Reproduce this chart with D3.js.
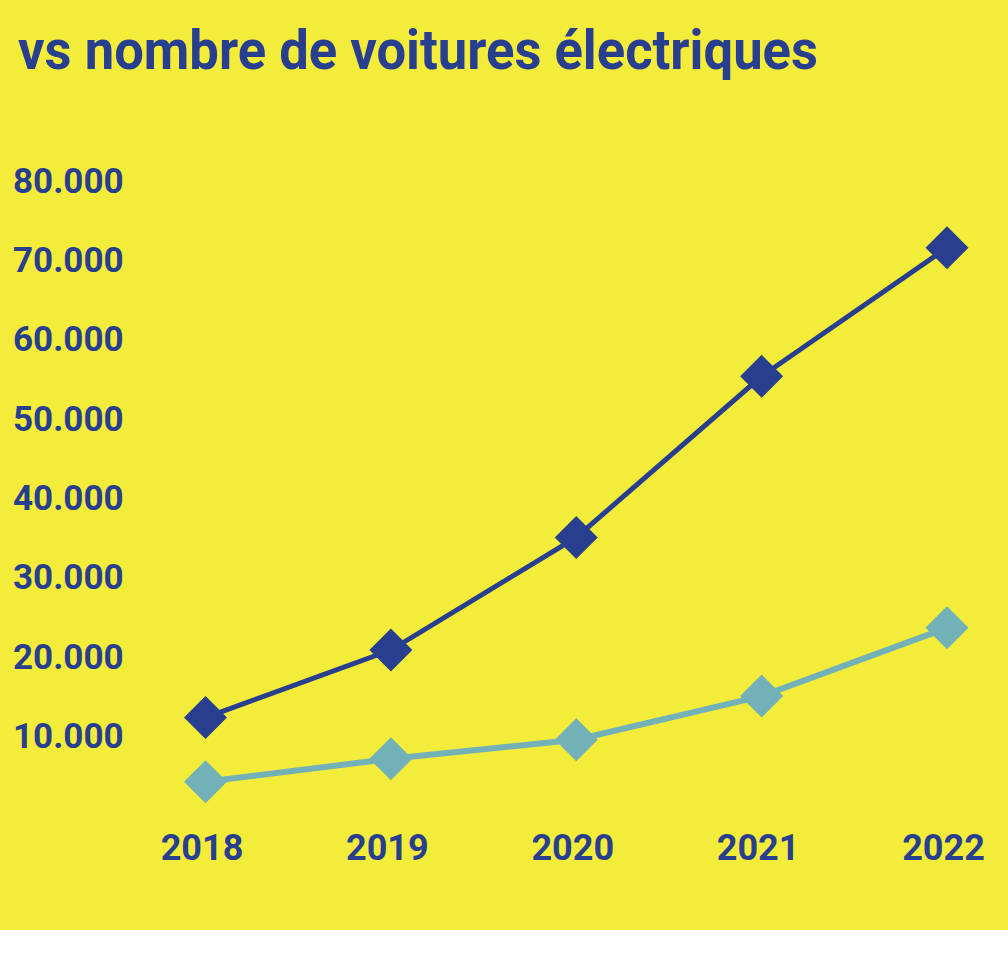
<!DOCTYPE html>
<html>
<head>
<meta charset="utf-8">
<script src="https://cdn.jsdelivr.net/npm/d3@7"></script>
<style>
	body { margin: 0; background: #ffffff; }
	.label { font-family: Roboto, "DejaVu Sans", sans-serif; font-weight: 700; fill: #273f8e; }
</style>
</head>
<body>
<div class="chart"></div>
<script>
// Data
var years = ["2018", "2019", "2020", "2021", "2022"];
var darkValues = [12200, 20700, 34900, 55200, 71400];
var lightValues = [4100, 7000, 9400, 14900, 23500];
var yTicks = [10000, 20000, 30000, 40000, 50000, 60000, 70000, 80000];
var titleText = "vs nombre de voitures électriques";

var outerW = 1008,
	outerH = 953;

var darkColor = "#273f8e",
	lightColor = "#72b1b8",
	yellow = "#f4ec3b";

var svg = d3.select(".chart")
	.append("svg")
	.attr("width", outerW)
	.attr("height", outerH);

// yellow panel, white strip below
svg.append("rect")
	.attr("x", 0)
	.attr("y", 0)
	.attr("width", outerW)
	.attr("height", 930)
	.attr("fill", yellow);

// title (upper line is cut off in the picture)
svg.append("text")
	.attr("class", "label")
	.attr("x", 18)
	.attr("y", 69)
	.style("font-size", "56px")
	.attr("textLength", 800)
	.attr("lengthAdjust", "spacingAndGlyphs")
	.text(titleText);

// scales
var x = d3.scalePoint()
	.domain(years)
	.range([205.5, 947]);

var y = d3.scaleLinear()
	.domain([10000, 80000])
	.range([735, 179.5]);

var nl = d3.formatLocale({decimal: ",", thousands: ".", grouping: [3], currency: ["", "€"]});
var fmt = nl.format(",d");

// y axis: labels only, left aligned
var yAxis = svg.append("g")
	.attr("class", "y_axis")
	.call(d3.axisLeft(y).tickValues(yTicks).tickFormat(fmt).tickSize(0));
yAxis.select(".domain").remove();
yAxis.selectAll("text")
	.attr("class", "label")
	.attr("x", 13)
	.attr("dy", "0.36em")
	.style("text-anchor", "start")
	.style("font-size", "35px")
	.attr("fill", darkColor);

// x axis: labels only
var xAxis = svg.append("g")
	.attr("class", "x_axis")
	.attr("transform", "translate(-4,860)")
	.call(d3.axisBottom(x).tickSize(0));
xAxis.select(".domain").remove();
xAxis.selectAll("text")
	.attr("class", "label")
	.attr("y", 0)
	.attr("dy", 0)
	.style("font-size", "36px")
	.attr("fill", darkColor);

var line = d3.line()
	.x(function(d, i) { return x(years[i]); })
	.y(function(d) { return y(d); });

var diamond = d3.symbol().type(d3.symbolSquare).size(925);

function drawSeries(values, color, strokeW) {
	svg.append("path")
		.datum(values)
		.attr("d", line)
		.attr("fill", "none")
		.attr("stroke", color)
		.attr("stroke-width", strokeW);

	svg.selectAll(null)
		.data(values)
		.enter()
		.append("path")
		.attr("d", diamond)
		.attr("transform", function(d, i) {
			return "translate(" + x(years[i]) + "," + y(d) + ") rotate(45)";
		})
		.attr("fill", color);
}

drawSeries(lightValues, lightColor, 6);
drawSeries(darkValues, darkColor, 5);
</script>
</body>
</html>
